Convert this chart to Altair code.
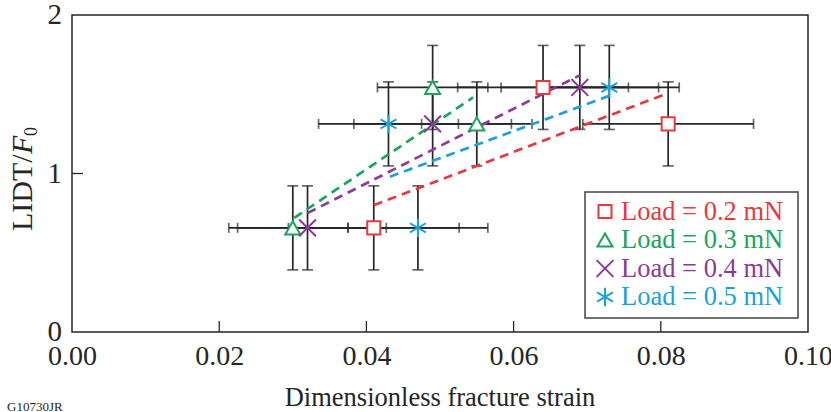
import altair as alt
import pandas as pd

# ---------------- data ----------------
series = ["Load = 0.2 mN", "Load = 0.3 mN", "Load = 0.4 mN", "Load = 0.5 mN"]
colors = ["#E8383D", "#19A55B", "#8E3A98", "#1DA1DD"]
shapes = [
    "square",
    "triangle-up",
    "M-1,-1L1,1M-1,1L1,-1",
    "M0,-1L0,1M-0.866,-0.5L0.866,0.5M-0.866,0.5L0.866,-0.5",
]
sizes = [170, 340, 240, 330]
stroke_widths = [2.0, 2.0, 2.8, 2.8]

strain_02 = [0.041, 0.064, 0.081]
lidt_02 = [0.657, 1.543, 1.313]
strain_03 = [0.030, 0.049, 0.055]
lidt_03 = [0.657, 1.543, 1.313]
strain_04 = [0.032, 0.049, 0.069]
lidt_04 = [0.657, 1.313, 1.543]
strain_05 = [0.047, 0.043, 0.073]
lidt_05 = [0.657, 1.313, 1.543]

strain_err = [0.0116, 0.0075, 0.0107, 0.0095]
lidt_err = [0.265, 0.265, 0.265, 0.265]

fit_x_02 = [0.041, 0.0803]
fit_y_02 = [0.80, 1.495]
fit_x_03 = [0.0302, 0.0545]
fit_y_03 = [0.72, 1.48]
fit_x_04 = [0.032, 0.069]
fit_y_04 = [0.75, 1.62]
fit_x_05 = [0.0432, 0.073]
fit_y_05 = [0.98, 1.49]

x_ticks = [0.0, 0.02, 0.04, 0.06, 0.08, 0.10]
y_ticks = [0, 1, 2]
y_tick_labels = ["0", "1", "2"]

# ---------------- tables ----------------
pts_x = [strain_02, strain_03, strain_04, strain_05]
pts_y = [lidt_02, lidt_03, lidt_04, lidt_05]
rows = []
for i, s in enumerate(series):
    for xv, yv in zip(pts_x[i], pts_y[i]):
        rows.append({"series": s, "x": xv, "y": yv,
                     "xerr": strain_err[i], "yerr": lidt_err[i]})
pts = pd.DataFrame(rows)

fx = [fit_x_02, fit_x_03, fit_x_04, fit_x_05]
fy = [fit_y_02, fit_y_03, fit_y_04, fit_y_05]
frows = []
for i, s in enumerate(series):
    for k, (xv, yv) in enumerate(zip(fx[i], fy[i])):
        frows.append({"series": s, "x": xv, "y": yv, "o": k})
fits = pd.DataFrame(frows)

W, H = 736, 317
FONT = "Liberation Serif"
INK = "#262626"

xscale = alt.Scale(domain=[0, 0.1], nice=False, zero=False)
yscale = alt.Scale(domain=[0, 2], nice=False, zero=False)
xaxis = alt.Axis(values=x_ticks, format=".2f", title=None, labelFontSize=28,
                 labelPadding=10, labelFont=FONT, labelColor=INK,
                 labelOverlap=False, labelFlush=False)


def X(f):
    return alt.X(f"{f}:Q", scale=xscale, axis=xaxis)


def Y(f):
    return alt.Y(f"{f}:Q", scale=yscale, axis=None)


col_scale = alt.Scale(domain=series, range=colors)
shape_scale = alt.Scale(domain=series, range=shapes)
size_scale = alt.Scale(domain=series, range=sizes)
sw_scale = alt.Scale(domain=series, range=stroke_widths)

base = alt.Chart(pts).transform_calculate(
    xlo="datum.x - datum.xerr", xhi="datum.x + datum.xerr",
    ylo="datum.y - datum.yerr", yhi="datum.y + datum.yerr")

hbar = base.mark_rule(color=INK, strokeWidth=1.7).encode(
    x=X("xlo"), x2="xhi:Q", y=Y("y"))
vbar = base.mark_rule(color=INK, strokeWidth=1.7).encode(
    x=X("x"), y=Y("ylo"), y2="yhi:Q")
hcap_l = base.mark_tick(color=INK, orient="vertical", size=10, thickness=1.7).encode(
    x=X("xlo"), y=Y("y"))
hcap_r = base.mark_tick(color=INK, orient="vertical", size=10, thickness=1.7).encode(
    x=X("xhi"), y=Y("y"))
vcap_l = base.mark_tick(color=INK, orient="horizontal", size=11, thickness=1.7).encode(
    x=X("x"), y=Y("ylo"))
vcap_h = base.mark_tick(color=INK, orient="horizontal", size=11, thickness=1.7).encode(
    x=X("x"), y=Y("yhi"))

lines = alt.Chart(fits).mark_line(strokeWidth=2.7, strokeDash=[9, 6]).encode(
    x=X("x"), y=Y("y"), order="o:Q",
    color=alt.Color("series:N", scale=col_scale, legend=None),
    detail="series:N")

markers = alt.Chart(pts).mark_point(fill="white", fillOpacity=1,
                                    opacity=1).encode(
    x=X("x"), y=Y("y"),
    shape=alt.Shape("series:N", scale=shape_scale, legend=None),
    stroke=alt.Stroke("series:N", scale=col_scale, legend=None),
    size=alt.Size("series:N", scale=size_scale, legend=None),
    strokeWidth=alt.StrokeWidth("series:N", scale=sw_scale, legend=None))

# inward ticks
xt = alt.Chart(pd.DataFrame({"x": [0.02, 0.04, 0.06, 0.08]})).mark_rule(
    color=INK, strokeWidth=1.3).encode(x=X("x"), y=alt.value(H), y2=alt.value(H - 11))
yt = alt.Chart(pd.DataFrame({"y": [1]})).mark_rule(
    color=INK, strokeWidth=1.3).encode(y=Y("y"), x=alt.value(0), x2=alt.value(11))

# y tick labels
ylab = alt.Chart(pd.DataFrame({"y": y_ticks, "lab": y_tick_labels})).mark_text(
    font=FONT, fontSize=29, color=INK, align="right", baseline="middle").encode(
    y=Y("y"), x=alt.value(-10), text="lab:N")

# legend (drawn by hand)
leg = pd.DataFrame({"series": series, "idx": list(range(len(series)))})
leg_box = alt.Chart(pd.DataFrame({"a": [0]})).mark_rect(
    fill="white", stroke="#444444", strokeWidth=1.5).encode(
    x=alt.value(513), x2=alt.value(726), y=alt.value(177), y2=alt.value(303))
leg_base = alt.Chart(leg).transform_calculate(ly="196.5 + datum.idx * 28.5")
leg_sym = leg_base.mark_point(fill="white", fillOpacity=1, opacity=1).encode(
    x=alt.value(533), y=alt.Y("ly:Q", scale=None),
    shape=alt.Shape("series:N", scale=shape_scale, legend=None),
    stroke=alt.Stroke("series:N", scale=col_scale, legend=None),
    size=alt.Size("series:N", scale=size_scale, legend=None),
    strokeWidth=alt.StrokeWidth("series:N", scale=sw_scale, legend=None))
leg_txt = leg_base.mark_text(align="left", baseline="middle", font=FONT,
                             fontSize=26.5).encode(
    x=alt.value(549), y=alt.Y("ly:Q", scale=None), text="series:N",
    color=alt.Color("series:N", scale=col_scale, legend=None))

# titles
one = pd.DataFrame({"a": [0]})
xtitle = alt.Chart(one).mark_text(font=FONT, fontSize=26.5, color=INK,
                                  align="center", baseline="alphabetic").encode(
    x=alt.value(W / 2), y=alt.value(391), text=alt.value("Dimensionless fracture strain"))
yt1 = alt.Chart(one).mark_text(font=FONT, fontSize=30, color=INK, angle=270,
                               align="left", baseline="alphabetic").encode(
    x=alt.value(-40), y=alt.value(216), text=alt.value("LIDT/"))
yt2 = alt.Chart(one).mark_text(font=FONT, fontSize=30, color=INK, angle=270,
                               fontStyle="italic", align="left",
                               baseline="alphabetic").encode(
    x=alt.value(-40), y=alt.value(139), text=alt.value("F"))
yt3 = alt.Chart(one).mark_text(font=FONT, fontSize=18, color=INK, angle=270,
                               align="left", baseline="alphabetic").encode(
    x=alt.value(-35), y=alt.value(121), text=alt.value("0"))
code = alt.Chart(one).mark_text(font=FONT, fontSize=13, color=INK,
                                align="left", baseline="alphabetic").encode(
    x=alt.value(-65), y=alt.value(396), text=alt.value("G10730JR"))

chart = alt.layer(
    xt, yt, hbar, vbar, hcap_l, hcap_r, vcap_l, vcap_h, lines, markers,
    ylab, leg_box, leg_sym, leg_txt, xtitle, yt1, yt2, yt3, code
).properties(
    width=W, height=H,
    autosize=alt.AutoSizeParams(type="none"),
    padding={"left": 72, "top": 15, "right": 23, "bottom": 80},
).configure_view(
    stroke=INK, strokeWidth=1.5
).configure_axis(
    domain=False, ticks=False, grid=False
)

chart.save("out.html", embed_options={"renderer": "svg", "actions": False})
